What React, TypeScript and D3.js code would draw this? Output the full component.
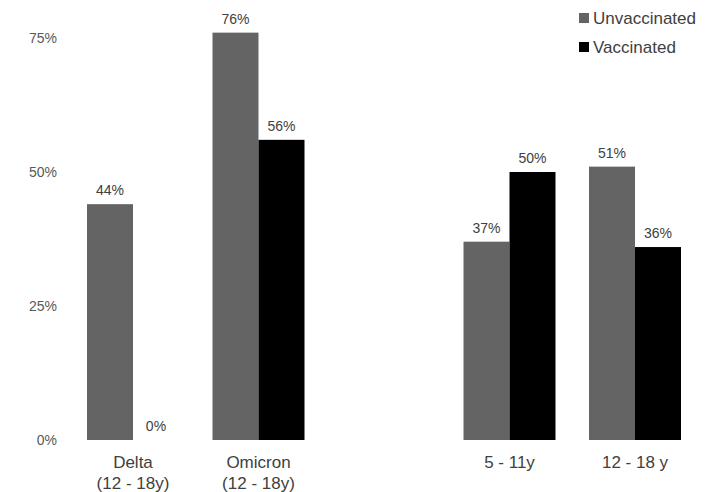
import React from "react";
import * as d3 from "d3";

const categories = ["Delta\n(12 - 18y)", "Omicron\n(12 - 18y)", "", "5 - 11y", "12 - 18 y"];
const unvaccinated = [44, 76, null, 37, 51];
const vaccinated = [0, 56, null, 50, 36];
const seriesNames = ["Unvaccinated", "Vaccinated"];
const seriesColors = ["#646464", "#000000"];
const yTicks = [0, 25, 50, 75];

const W = 705;
const H = 492;

export default function App() {
  const x = d3.scaleBand<string>().domain(categories.map((c, i) => c + "#" + i)).range([87, 681]).paddingInner(0.267).paddingOuter(0);
  const y = d3.scaleLinear().domain([0, 100]).range([440, -96]);
  const sub = d3.scaleBand<string>().domain(seriesNames).range([0, x.bandwidth()]).padding(0);
  const keys = categories.map((c, i) => c + "#" + i);
  const series = [unvaccinated, vaccinated];
  const font = "Liberation Sans, Arial, sans-serif";

  return (
    <svg width={W} height={H} style={{ position: "absolute", left: 0, top: 0, background: "#fff" }} fontFamily={font}>
      {yTicks.map((t) => (
        <text key={t} x={57} y={y(t)} dy="0.35em" textAnchor="end" fontSize={14} fill="#595959">
          {t}%
        </text>
      ))}
      {keys.map((k, i) =>
        series.map((s, si) => {
          const v = s[i];
          if (v === null || v === undefined) return null;
          const bx = (x(k) as number) + (sub(seriesNames[si]) as number);
          const bw = sub.bandwidth();
          return (
            <g key={k + si}>
              <rect x={bx} y={y(v)} width={bw} height={y(0) - y(v)} fill={seriesColors[si]} />
              <text x={bx + bw / 2} y={y(v) - 9} textAnchor="middle" fontSize={14} fill="#404040">
                {v}%
              </text>
            </g>
          );
        })
      )}
      {keys.map((k, i) => {
        const lines = categories[i].split("\n").filter((l) => l.length);
        const cx = (x(k) as number) + x.bandwidth() / 2;
        return (
          <text key={"c" + k} x={cx} y={462} textAnchor="middle" fontSize={17} fill="#404040">
            {lines.map((l, li) => (
              <tspan key={li} x={cx} dy={li === 0 ? "0.35em" : 21}>
                {l}
              </tspan>
            ))}
          </text>
        );
      })}
      {seriesNames.map((n, i) => (
        <g key={n} transform={`translate(579, ${18 + i * 29})`}>
          <rect x={0} y={-5} width={10} height={10} fill={seriesColors[i]} />
          <text x={14} y={0} dy="0.35em" fontSize={17} fill="#404040">
            {n}
          </text>
        </g>
      ))}
    </svg>
  );
}
